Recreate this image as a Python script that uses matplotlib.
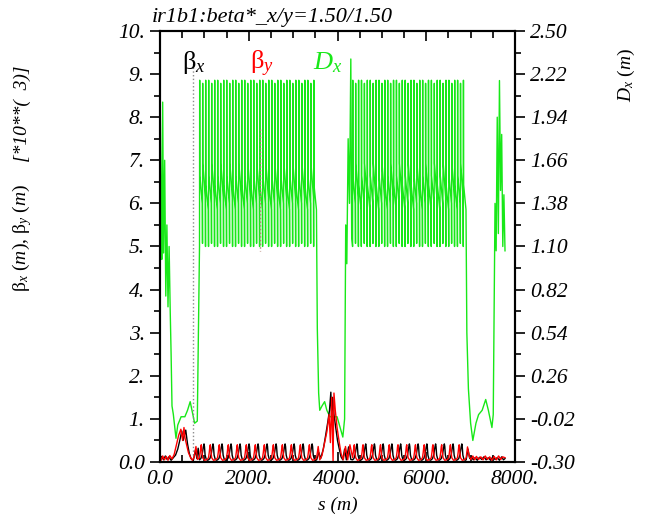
import numpy as np
import matplotlib
matplotlib.use("Agg")
import matplotlib.pyplot as plt
from matplotlib.ticker import MultipleLocator, FixedLocator

plt.rcParams['font.family'] = ['Liberation Serif', 'DejaVu Serif']
plt.rcParams['mathtext.fontset'] = 'custom'
plt.rcParams['mathtext.rm'] = 'Liberation Serif'
plt.rcParams['mathtext.it'] = 'Liberation Serif:italic'

title = "ir1b1:beta*_x/y=1.50/1.50"

# ---- insertion around s = 0 ----
ir1_dx_s = [0, 20, 40, 60, 80, 105, 130, 155, 180, 205, 230, 250, 270, 300,
            360, 400, 475, 560, 620, 680, 720, 780, 840, 870]
ir1_dx = [2.164, 1.520, 1.016, 2.038, 1.058, 1.660, 0.778, 1.240, 0.708,
          1.100, 0.680, 0.400, 0.064, 0.010, -0.146, -0.060, -0.006, -0.006,
          0.036, 0.092, 0.036, -0.048, -0.034, 0.680]
ir1_bx_s = [0, 40, 80, 120, 160, 200, 250, 300, 350, 400, 450, 490, 520,
            550, 580, 620, 660, 700, 750, 800, 830, 860]
ir1_bx = [0.08, 0.13, 0.05, 0.14, 0.06, 0.12, 0.04, 0.10, 0.16, 0.30, 0.52,
          0.72, 0.50, 0.62, 0.74, 0.42, 0.20, 0.08, 0.03, 0.28, 0.08, 0.32]
ir1_by_s = [0, 25, 60, 100, 140, 180, 220, 270, 320, 370, 420, 470, 510,
            540, 565, 600, 640, 690, 730, 770, 810, 845]
ir1_by = [0.12, 0.04, 0.14, 0.05, 0.13, 0.04, 0.15, 0.07, 0.18, 0.40, 0.62,
          0.76, 0.50, 0.80, 0.55, 0.40, 0.22, 0.10, 0.04, 0.12, 0.36, 0.06]

# ---- arc FODO cell (position as fraction of the cell) ----
cell_dx_f = [0.0, 0.02, 0.04, 0.31, 0.333, 0.353, 0.373, 0.643,
             0.667, 0.687, 0.707, 0.977]
cell_dx = [1.10, 2.18, 1.56, 1.38, 1.12, 2.16, 1.64, 1.42,
           1.10, 2.18, 1.50, 1.34]
cell_bx_f = [0.0, 0.15, 0.30, 0.42, 0.50, 0.55, 0.62, 0.75, 0.90]
cell_bx = [0.05, 0.08, 0.18, 0.34, 0.42, 0.36, 0.16, 0.06, 0.04]
cell_by_f = [0.0, 0.08, 0.15, 0.20, 0.25, 0.35, 0.55, 0.75, 0.90]
cell_by = [0.10, 0.22, 0.36, 0.40, 0.28, 0.10, 0.04, 0.05, 0.07]

arc1_range = (890, 3530)
arc2_range = (4340, 6900)
cells_per_arc = 13

# ---- insertion around s = 3900 ----
ir2_dx_s = [3545, 3575, 3600, 3650, 3710, 3760, 3830, 3990, 4060, 4120,
            4160, 4185, 4210, 4240, 4270, 4300, 4320]
ir2_dx = [0.568, 0.148, 0.036, 0.064, 0.092, 0.036, -0.006, -0.006, -0.076,
          -0.138, -0.020, 1.240, 0.988, 1.800, 1.380, 2.318, 1.156]
ir2_bx_s = [3530, 3580, 3620, 3680, 3730, 3780, 3820, 3850, 3870, 3890,
            3920, 3960, 4000, 4040, 4080, 4120, 4160, 4200, 4250, 4300]
ir2_bx = [0.05, 0.22, 0.08, 0.30, 0.60, 0.92, 1.20, 1.62, 0.95, 1.50, 1.10,
          0.80, 0.50, 0.30, 0.12, 0.05, 0.30, 0.05, 0.35, 0.06]
ir2_by_s = [3530, 3565, 3600, 3650, 3700, 3760, 3810, 3840, 3870, 3900,
            3920, 3950, 3990, 4040, 4080, 4130, 4180, 4230, 4280]
ir2_by = [0.10, 0.36, 0.05, 0.15, 0.40, 0.70, 1.10, 0.45, 1.50, 0.02, 1.60,
          1.20, 0.80, 0.45, 0.20, 0.05, 0.36, 0.05, 0.40]

# ---- insertion at the end of the ring ----
ir3_dx_s = [6915, 6950, 7000, 7050, 7120, 7180, 7260, 7340, 7400, 7480,
            7510, 7530, 7550, 7575, 7600, 7625, 7650, 7675, 7700, 7725,
            7750, 7775]
ir3_dx = [0.540, 0.176, -0.048, -0.160, -0.048, 0.008, 0.036, 0.106, 0.036,
          -0.076, 0.008, 0.680, 1.380, 1.072, 1.940, 1.184, 2.178, 1.464,
          1.828, 1.100, 1.436, 1.072]
ir3_bx_s = [6900, 6940, 6980, 7020, 7060, 7100, 7150, 7200, 7250, 7300,
            7350, 7400, 7450, 7500, 7550, 7600, 7650, 7700, 7740, 7775]
ir3_bx = [0.05, 0.30, 0.08, 0.12, 0.05, 0.10, 0.04, 0.11, 0.06, 0.12, 0.05,
          0.10, 0.04, 0.12, 0.06, 0.10, 0.04, 0.12, 0.05, 0.08]
ir3_by_s = [6900, 6930, 6970, 7010, 7050, 7090, 7130, 7180, 7230, 7280,
            7330, 7380, 7430, 7480, 7530, 7580, 7630, 7680, 7720, 7775]
ir3_by = [0.10, 0.35, 0.12, 0.06, 0.14, 0.05, 0.13, 0.06, 0.12, 0.05, 0.14,
          0.06, 0.12, 0.04, 0.13, 0.05, 0.14, 0.06, 0.12, 0.10]

left_ticks = [0, 1, 2, 3, 4, 5, 6, 7, 8, 9, 10]
left_labels = ["0.0", "1.", "2.", "3.", "4.", "5.", "6.", "7.", "8.", "9.", "10."]
right_ticks = [-0.30, -0.02, 0.26, 0.54, 0.82, 1.10, 1.38, 1.66, 1.94, 2.22, 2.50]
right_labels = ["-0.30", "-0.02", "0.26", "0.54", "0.82", "1.10", "1.38",
                "1.66", "1.94", "2.22", "2.50"]
s_ticks = [0, 2000, 4000, 6000, 8000]
s_labels = ["0.0", "2000.", "4000.", "6000.", "8000."]


def arc(rng, frac, vals, n):
    length = (rng[1] - rng[0]) / n
    s = rng[0] + (np.arange(n)[:, None] + np.asarray(frac)[None, :]) * length
    return s.ravel(), np.tile(vals, n)


def ring(ir1, ir2, ir3, frac, vals):
    a1 = arc(arc1_range, frac, vals, cells_per_arc)
    a2 = arc(arc2_range, frac, vals, cells_per_arc)
    s = np.concatenate([ir1[0], a1[0], ir2[0], a2[0], ir3[0]])
    v = np.concatenate([ir1[1], a1[1], ir2[1], a2[1], ir3[1]])
    return s, v


s_dx, dx = ring((ir1_dx_s, ir1_dx), (ir2_dx_s, ir2_dx), (ir3_dx_s, ir3_dx),
                cell_dx_f, cell_dx)
s_bx, bx = ring((ir1_bx_s, ir1_bx), (ir2_bx_s, ir2_bx), (ir3_bx_s, ir3_bx),
                cell_bx_f, cell_bx)
s_by, by = ring((ir1_by_s, ir1_by), (ir2_by_s, ir2_by), (ir3_by_s, ir3_by),
                cell_by_f, cell_by)

fig = plt.figure(figsize=(6.46, 5.18), dpi=100)
ax = fig.add_axes([0.2477, 0.1081, 0.5495, 0.8321])
ax2 = ax.twinx()
ax.set_zorder(ax2.get_zorder() + 1)
ax.patch.set_visible(False)

green = '#18e818'
ax2.plot(s_dx, dx, color=green, lw=1.0)
ax.plot(s_bx, bx, color='black', lw=1.0)
ax.plot(s_by, by, color='red', lw=1.0)

# label connector lines
ax.plot([744, 744], [0.16, 9.33], ls=':', color='0.55', lw=1.0, zorder=0)
ax2.plot([2254, 2254], [1.86, 1.07], ls=':', color='#b08070', lw=1.0)

ax.set_xlim(0, 8000)
ax.set_ylim(0, 10)
ax2.set_ylim(-0.30, 2.50)

tick_font = dict(family='Liberation Serif', style='italic', size=15.5)
ax.xaxis.set_major_locator(FixedLocator(s_ticks))
ax.set_xticklabels(s_labels, **tick_font)
ax.xaxis.set_minor_locator(MultipleLocator(500))
ax.yaxis.set_major_locator(FixedLocator(left_ticks))
ax.set_yticklabels(left_labels, **tick_font)
ax.yaxis.set_minor_locator(MultipleLocator(0.5))
ax2.yaxis.set_major_locator(FixedLocator(right_ticks))
ax2.set_yticklabels(right_labels, **tick_font)
ax2.yaxis.set_minor_locator(FixedLocator(np.array(right_ticks[:-1]) + 0.14))

ax.tick_params(axis='x', which='both', top=True, direction='in', width=1.2)
ax.tick_params(axis='x', which='major', length=7, pad=6)
ax.tick_params(axis='x', which='minor', length=5)
ax.tick_params(axis='y', which='major', direction='out', length=7, width=1.2, pad=4)
ax.tick_params(axis='y', which='minor', direction='out', length=4, width=1.2)
ax2.tick_params(axis='y', which='major', direction='out', length=7, width=1.2, pad=4)
ax2.tick_params(axis='y', which='minor', direction='out', length=4, width=1.2)
for a in (ax, ax2):
    for sp in a.spines.values():
        sp.set_linewidth(1.5)

# curve legend
ax.text(0.062, 0.912, r'$\mathrm{\beta}_{x}$', transform=ax.transAxes,
        fontsize=19, color='black')
ax.text(0.254, 0.912, r'$\mathrm{\beta}_{y}$', transform=ax.transAxes,
        fontsize=19, color='red')
ax.text(0.430, 0.912, r'$D_{x}$', transform=ax.transAxes,
        fontsize=19, color=green)

lab = dict(family='Liberation Serif', style='italic', size=14)
fig.text(152 / 646, 1 - 22 / 518, title, ha='left', va='baseline',
         family='Liberation Serif', style='italic', size=16)
fig.text(338 / 646, 1 - 510 / 518, 's (m)', ha='center', va='baseline', **lab)
fig.text(22 / 646, 1 - 292 / 518, r'$\mathrm{\beta}_{x}$ $(m)$, $\mathrm{\beta}_{y}$ $(m)$',
         rotation=90, ha='center', va='bottom', fontsize=14)
fig.text(22 / 646, 1 - 162 / 518, '[*10**(  3)]', rotation=90,
         ha='center', va='bottom', **lab)
fig.text(626 / 646, 1 - 102 / 518, r'$D_{x}$ $(m)$', rotation=90,
         ha='center', va='bottom', fontsize=14)

fig.savefig("out.png", dpi=100)
